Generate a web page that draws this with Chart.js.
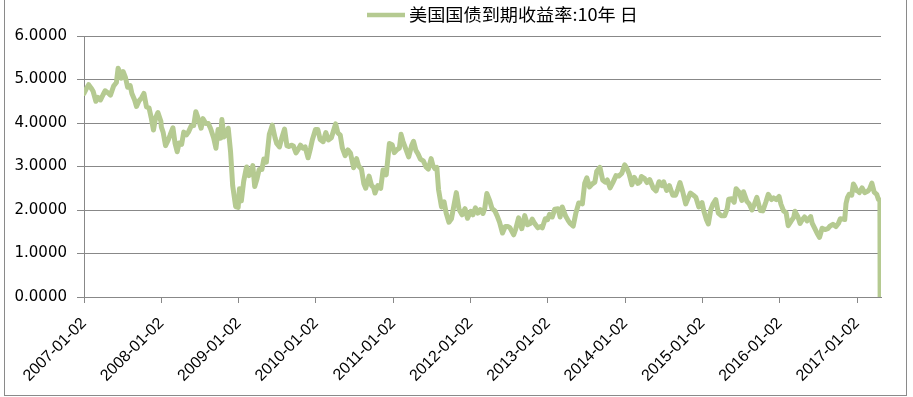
<!DOCTYPE html>
<html>
<head>
<meta charset="utf-8">
<script src="https://cdn.jsdelivr.net/npm/chart.js@4/dist/chart.umd.min.js"></script>
<style>
html,body{margin:0;padding:0;background:#fff;}
#c{display:block;}
</style>
</head>
<body>
<canvas id="c" width="913" height="397"></canvas>
<script>
const seriesName = '美国国债到期收益率:10年 日';
const yearTicks = [2007,2008,2009,2010,2011,2012,2013,2014,2015,2016,2017];
const tickLabels = ['2007-01-02','2008-01-02','2009-01-02','2010-01-02','2011-01-02','2012-01-02','2013-01-02','2014-01-02','2015-01-02','2016-01-02','2017-01-02'];
const yTicks = [0,1,2,3,4,5,6];

const dates = [
'2007-01-02','2007-01-12','2007-01-24','2007-02-05','2007-02-14','2007-02-27','2007-03-09','2007-03-21','2007-04-02','2007-04-12','2007-04-26','2007-05-07','2007-05-22','2007-06-04','2007-06-12','2007-06-21','2007-06-28','2007-07-06','2007-07-17','2007-07-27','2007-08-08','2007-08-16','2007-08-29','2007-09-07','2007-09-19','2007-10-01','2007-10-12','2007-10-24','2007-11-05','2007-11-15','2007-11-26','2007-12-06','2007-12-17','2007-12-31',
'2008-01-02','2008-01-11','2008-01-22','2008-02-04','2008-02-13','2008-02-26','2008-03-07','2008-03-17','2008-03-26','2008-04-07','2008-04-17','2008-04-30','2008-05-09','2008-05-22','2008-06-03','2008-06-13','2008-06-26','2008-07-08','2008-07-17','2008-07-30','2008-08-11','2008-08-22','2008-09-05','2008-09-16','2008-09-26','2008-10-08','2008-10-14','2008-10-24','2008-11-04','2008-11-13','2008-11-24','2008-12-04','2008-12-18','2008-12-30',
'2009-01-06','2009-01-15','2009-01-26','2009-02-05','2009-02-09','2009-02-20','2009-03-03','2009-03-10','2009-03-19','2009-03-30','2009-04-09','2009-04-22','2009-05-01','2009-05-13','2009-05-27','2009-06-10','2009-06-23','2009-07-01','2009-07-14','2009-07-27','2009-08-07','2009-08-18','2009-08-27','2009-09-08','2009-09-18','2009-09-30','2009-10-09','2009-10-21','2009-11-02','2009-11-12','2009-11-26','2009-12-08','2009-12-16','2009-12-31',
'2010-01-11','2010-01-22','2010-02-05','2010-02-18','2010-03-02','2010-03-16','2010-03-29','2010-04-05','2010-04-16','2010-04-27','2010-05-07','2010-05-20','2010-06-02','2010-06-14','2010-06-29','2010-07-13','2010-07-23','2010-08-05','2010-08-16','2010-08-25','2010-09-10','2010-09-22','2010-10-01','2010-10-08','2010-10-21','2010-11-04','2010-11-15','2010-11-30','2010-12-07','2010-12-15','2010-12-28',
'2011-01-07','2011-01-18','2011-01-31','2011-02-08','2011-02-17','2011-03-01','2011-03-16','2011-03-30','2011-04-08','2011-04-19','2011-04-29','2011-05-10','2011-05-24','2011-06-06','2011-06-17','2011-06-30','2011-07-08','2011-07-18','2011-07-27','2011-08-04','2011-08-18','2011-08-30','2011-09-09','2011-09-22','2011-10-04','2011-10-27','2011-11-09','2011-11-23','2011-12-07','2011-12-19',
'2012-01-03','2012-01-13','2012-01-25','2012-02-06','2012-02-17','2012-03-01','2012-03-09','2012-03-19','2012-04-02','2012-04-12','2012-04-26','2012-05-08','2012-05-18','2012-06-01','2012-06-14','2012-06-26','2012-07-05','2012-07-24','2012-08-03','2012-08-16','2012-08-31','2012-09-14','2012-09-27','2012-10-10','2012-10-19','2012-10-31','2012-11-15','2012-11-29','2012-12-06','2012-12-20','2012-12-31',
'2013-01-10','2013-01-23','2013-02-04','2013-02-19','2013-03-01','2013-03-11','2013-03-27','2013-04-09','2013-04-18','2013-05-02','2013-05-15','2013-05-28','2013-06-07','2013-06-14','2013-06-25','2013-07-05','2013-07-18','2013-07-31','2013-08-12','2013-08-21','2013-09-05','2013-09-18','2013-09-30','2013-10-10','2013-10-23','2013-11-05','2013-11-20','2013-12-03','2013-12-17','2013-12-31',
'2014-01-09','2014-01-21','2014-02-03','2014-02-14','2014-03-03','2014-03-13','2014-03-20','2014-04-04','2014-04-15','2014-04-28','2014-05-15','2014-05-28','2014-06-11','2014-06-25','2014-07-03','2014-07-17','2014-07-30','2014-08-15','2014-08-28','2014-09-08','2014-09-18','2014-10-01','2014-10-15','2014-10-28','2014-11-06','2014-11-20','2014-12-02','2014-12-16','2014-12-31',
'2015-01-09','2015-01-20','2015-01-30','2015-02-10','2015-02-20','2015-03-06','2015-03-18','2015-04-01','2015-04-17','2015-04-29','2015-05-06','2015-05-20','2015-06-01','2015-06-10','2015-06-24','2015-07-07','2015-07-15','2015-07-31','2015-08-11','2015-08-24','2015-09-04','2015-09-16','2015-10-02','2015-10-14','2015-10-29','2015-11-09','2015-11-24','2015-12-04','2015-12-17','2015-12-30',
'2016-01-08','2016-01-20','2016-02-01','2016-02-11','2016-02-24','2016-03-08','2016-03-14','2016-03-28','2016-04-07','2016-04-18','2016-04-28','2016-05-10','2016-05-27','2016-06-03','2016-06-16','2016-06-27','2016-07-08','2016-07-20','2016-08-03','2016-08-16','2016-08-26','2016-09-09','2016-09-23','2016-10-05','2016-10-14','2016-10-26','2016-11-04','2016-11-10','2016-11-17','2016-11-25','2016-12-07','2016-12-15','2016-12-22','2016-12-30',
'2017-01-03','2017-01-13','2017-01-26','2017-02-07','2017-02-21','2017-03-02','2017-03-13','2017-03-24','2017-04-05','2017-04-13','2017-04-20','2017-04-21'
];

const yields = [
4.68,4.78,4.88,4.80,4.73,4.50,4.59,4.53,4.65,4.74,4.69,4.64,4.85,4.93,5.26,5.15,5.03,5.18,5.04,4.82,4.86,4.68,4.53,4.38,4.51,4.58,4.68,4.37,4.35,4.13,3.84,4.12,4.24,4.04,
3.91,3.78,3.48,3.61,3.73,3.89,3.53,3.34,3.54,3.51,3.79,3.73,3.79,3.93,3.94,4.26,4.08,3.88,4.10,3.99,3.99,3.87,3.66,3.42,3.85,3.65,4.08,3.68,3.74,3.88,3.34,2.56,2.08,2.06,
2.49,2.21,2.66,2.91,2.99,2.79,2.90,3.02,2.54,2.72,2.93,2.93,3.17,3.10,3.74,3.95,3.66,3.53,3.45,3.69,3.86,3.48,3.46,3.49,3.47,3.31,3.38,3.49,3.42,3.45,3.20,3.43,3.61,3.85,
3.85,3.62,3.57,3.78,3.61,3.66,3.87,3.98,3.77,3.72,3.42,3.25,3.38,3.31,2.97,3.18,3.01,2.94,2.61,2.50,2.78,2.56,2.52,2.39,2.56,2.50,2.92,2.81,3.15,3.53,3.50,
3.32,3.38,3.42,3.74,3.58,3.42,3.22,3.48,3.58,3.37,3.29,3.17,3.13,2.99,2.94,3.18,3.03,2.95,2.98,2.47,2.07,2.19,1.93,1.72,1.80,2.40,2.01,1.89,2.03,1.81,
1.97,1.89,2.05,1.93,2.01,1.92,2.03,2.38,2.21,2.04,1.98,1.85,1.72,1.47,1.62,1.62,1.60,1.43,1.57,1.82,1.57,1.87,1.66,1.69,1.79,1.69,1.59,1.62,1.59,1.80,1.78,
1.90,1.84,2.02,2.03,1.84,2.07,1.86,1.75,1.69,1.63,1.94,2.16,2.17,2.14,2.61,2.74,2.53,2.60,2.64,2.89,2.98,2.69,2.64,2.69,2.51,2.63,2.79,2.78,2.84,3.04,
2.97,2.83,2.58,2.75,2.61,2.65,2.77,2.72,2.63,2.70,2.50,2.44,2.65,2.56,2.65,2.45,2.56,2.34,2.34,2.48,2.63,2.42,2.14,2.29,2.39,2.34,2.29,2.07,2.17,
1.97,1.79,1.68,2.00,2.13,2.24,1.93,1.87,1.87,2.03,2.25,2.26,2.18,2.49,2.41,2.22,2.42,2.20,2.14,2.00,2.13,2.29,1.99,1.98,2.19,2.36,2.24,2.28,2.24,2.31,
2.13,1.98,1.94,1.64,1.74,1.83,1.97,1.84,1.69,1.78,1.84,1.75,1.85,1.70,1.57,1.46,1.37,1.58,1.55,1.57,1.63,1.67,1.62,1.69,1.80,1.79,1.78,2.15,2.29,2.36,2.34,2.60,2.54,2.45,
2.45,2.40,2.51,2.40,2.43,2.48,2.62,2.41,2.36,2.24,2.23,0.00
];

function toYear(d){
  const p = d.split('-').map(Number);
  const doy = (Date.UTC(p[0],p[1]-1,p[2]) - Date.UTC(p[0],0,1))/864e5 + 1;
  return p[0] + (doy-2)/365;
}

const lineColor = '#B5CA91';
const gridColor = '#888888';

const framePlugin = {
  id:'frame',
  beforeDraw(chart){
    const c = chart.ctx;
    c.save();
    c.fillStyle = '#fff';
    c.fillRect(0,0,chart.width,chart.height);
    c.strokeStyle = '#8a8a8a';
    c.lineWidth = 1;
    c.strokeRect(4.5,-1,902,396.5);
    c.restore();
  },
  afterDraw(chart){
    const c = chart.ctx;
    const ds = chart.data.datasets[0];
    c.save();
    c.strokeStyle = ds.borderColor;
    c.lineWidth = 4.5;
    c.beginPath();
    c.moveTo(367,15);
    c.lineTo(405,15);
    c.stroke();
    c.fillStyle = '#000';
    c.font = '17px "Noto Sans CJK SC"';
    c.textBaseline = 'middle';
    const w = c.measureText(ds.label).width;
    c.translate(409,15);
    c.scale(229/w,1);
    c.fillText(ds.label,0,0);
    c.restore();
  }
};

new Chart(document.getElementById('c'), {
  type:'line',
  data:{
    datasets:[{
      label: seriesName,
      data: dates.map((d,i)=>({x:toYear(d), y:yields[i]})),
      borderColor: lineColor,
      backgroundColor: lineColor,
      borderWidth: 5,
      pointRadius: 0,
      tension: 0,
      borderJoinStyle:'round',
      borderCapStyle:'round',
      fill:false
    }]
  },
  options:{
    responsive:false,
    animation:false,
    events:[],
    layout:{padding:{left:0,top:36,right:32,bottom:0}},
    plugins:{legend:{display:false}, tooltip:{enabled:false}},
    scales:{
      x:{
        type:'linear',
        min:2007,
        max:2017.31,
        afterBuildTicks(s){ s.ticks = yearTicks.map(v=>({value:v})); },
        afterFit(s){ s.height = 100; },
        grid:{drawOnChartArea:false, color:gridColor, tickLength:6, drawTicks:true},
        border:{color:gridColor},
        ticks:{
          autoSkip:false, maxRotation:45, minRotation:45, padding:11,
          color:'#000', font:{family:'"Liberation Sans", Arial, sans-serif', size:16},
          callback(v){ const i = yearTicks.indexOf(v); return i>=0 ? tickLabels[i] : ''; }
        }
      },
      y:{
        min:0, max:6,
        afterBuildTicks(s){ s.ticks = yTicks.map(v=>({value:v})); },
        afterFit(s){ s.width = 84; },
        grid:{color:gridColor, tickLength:7},
        border:{color:gridColor},
        ticks:{
          padding:10, color:'#000',
          font:{family:'"DejaVu Sans", Verdana, sans-serif', size:15},
          callback(v){ return Number(v).toFixed(4); }
        }
      }
    }
  },
  plugins:[framePlugin]
});
</script>
</body>
</html>
